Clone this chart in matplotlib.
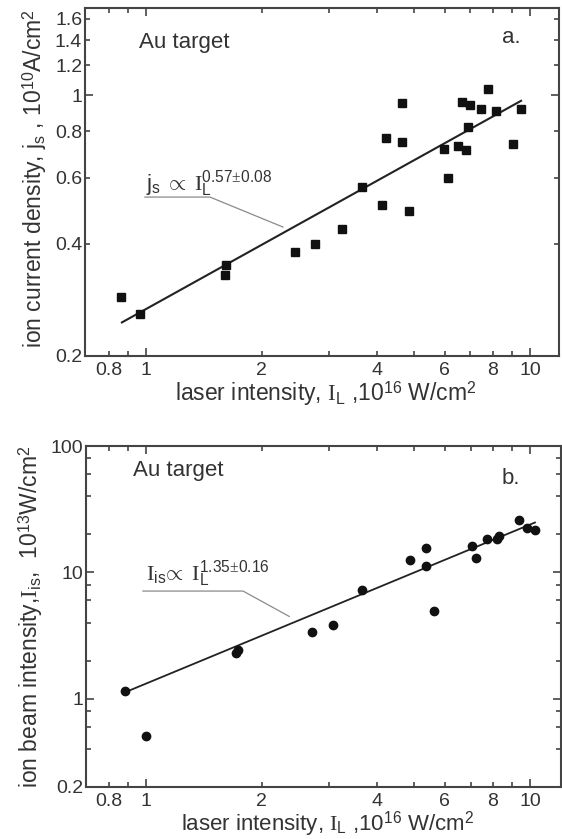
import numpy as np
import matplotlib.pyplot as plt
from matplotlib.ticker import FixedLocator, FuncFormatter

plt.rcParams['font.family'] = ['Liberation Sans', 'DejaVu Sans']
plt.rcParams['mathtext.fontset'] = 'custom'
plt.rcParams['mathtext.rm'] = 'Liberation Serif'
plt.rcParams['mathtext.sf'] = 'Liberation Sans'
plt.rcParams['mathtext.it'] = 'Liberation Serif:italic'
plt.rcParams['mathtext.bf'] = 'Liberation Serif:bold'

# ---- panel a: ion current density vs laser intensity (Au target)
laser_a = [0.86, 0.965, 1.61, 1.62, 2.45, 2.75, 3.25, 3.66, 4.11, 4.22, 4.63, 4.63,
           4.83, 5.97, 6.1, 6.5, 6.67, 6.8, 6.88, 6.98, 7.45, 7.76, 8.14, 9.05, 9.48]
jion_a = [0.287, 0.259, 0.329, 0.350, 0.379, 0.399, 0.438, 0.568, 0.508, 0.768, 0.95, 0.75,
          0.488, 0.718, 0.598, 0.730, 0.96, 0.711, 0.821, 0.938, 0.919, 1.04, 0.906, 0.739, 0.919]
fit_a_x = [0.866, 9.48]
fit_a_y = [0.246, 0.965]

# ---- panel b: ion beam intensity vs laser intensity
laser_b = [0.88, 1.0, 1.72, 1.74, 2.70, 3.06, 3.66, 4.87, 5.36, 5.36, 5.62, 7.07, 7.23,
           7.71, 8.19, 8.32, 9.36, 9.8, 10.3]
ibeam_b = [1.14, 0.51, 2.29, 2.43, 3.38, 3.8, 7.29, 12.6, 15.6, 11.2, 4.93, 16.2, 13.1,
           18.5, 18.2, 19.3, 26.2, 22.6, 21.5]
fit_b_x = [0.88, 10.3]
fit_b_y = [1.12, 24.8]

# leader lines from the fit labels
lead_a_x = [0.994, 1.468, 2.275]
lead_a_y = [0.533, 0.533, 0.443]
lead_b_x = [0.982, 1.79, 2.36]
lead_b_y = [7.11, 7.11, 4.48]

x_major = [1, 10]
x_minor = [0.8, 0.9, 2, 3, 4, 5, 6, 7, 8, 9]
x_minor_lab = {0.8: '0.8', 2: '2', 4: '4', 6: '6', 8: '8'}

ya_major = [1]
ya_minor = [0.2, 0.4, 0.6, 0.8, 1.2, 1.4, 1.6]
ya_minor_lab = {0.2: '0.2', 0.4: '0.4', 0.6: '0.6', 0.8: '0.8', 1.2: '1.2', 1.4: '1.4', 1.6: '1.6'}

yb_major = [1, 10, 100]
yb_minor = [0.2, 0.4, 0.6, 0.8, 2, 4, 6, 8, 20, 40, 60, 80]
yb_minor_lab = {0.2: '0.2'}

txt = '#333333'
sp = '#444444'
xlab = r'laser intensity, $\mathrm{I}_{\mathsf{L}}$ ,10$^{\mathsf{16}}$ W/cm$^{\mathsf{2}}$'


def lab_fmt(d):
    def f(v, pos):
        for k, s in d.items():
            if abs(v - k) < 1e-6 * max(1, k):
                return s
        return ''
    return FuncFormatter(f)


def style(ax, ymaj, ymin, ylab):
    ax.set_xscale('log')
    ax.set_yscale('log')
    ax.xaxis.set_major_locator(FixedLocator(x_major))
    ax.xaxis.set_minor_locator(FixedLocator(x_minor))
    ax.xaxis.set_major_formatter(FuncFormatter(lambda v, p: '%g' % v))
    ax.xaxis.set_minor_formatter(lab_fmt(x_minor_lab))
    ax.yaxis.set_major_locator(FixedLocator(ymaj))
    ax.yaxis.set_minor_locator(FixedLocator(ymin))
    ax.yaxis.set_major_formatter(FuncFormatter(lambda v, p: '%g' % v))
    ax.yaxis.set_minor_formatter(lab_fmt(ylab))
    ax.tick_params(which='both', direction='in', top=True, right=True,
                   color=sp, labelcolor=txt, labelsize=14, width=1.2)
    ax.tick_params(which='major', length=6)
    ax.tick_params(which='minor', length=3.5)
    ax.tick_params(axis='x', which='both', pad=4)
    ax.tick_params(axis='y', which='both', pad=2)
    for s in ax.spines.values():
        s.set_color(sp)
        s.set_linewidth(1.5)


fig = plt.figure(figsize=(5.62, 8.39), dpi=100)

ax = fig.add_axes([0.1512, 0.5757, 0.8434, 0.4148])
ax.plot(laser_a, jion_a, 's', color='#111111', markersize=5.2, zorder=3)
ax.plot(fit_a_x, fit_a_y, '-', color='#222222', lw=1.5)
ax.plot(lead_a_x, lead_a_y, '-', color='#8a8a8a', lw=0.9)
ax.set_xlim(0.694, 11.9)
ax.set_ylim(0.2, 1.711)
style(ax, ya_major, ya_minor, ya_minor_lab)
ax.text(1.0, 0.556, r'$\mathsf{j}_{\mathsf{s}}\ \propto\ \mathrm{I}_{\mathsf{L}}^{\mathsf{0.57}{\pm}\mathsf{0.08}}$',
        fontsize=16, color=txt, ha='left', va='baseline')
ax.text(0.209, 0.902, 'Au target', transform=ax.transAxes, fontsize=16, color=txt,
        ha='center', va='center')
ax.text(0.899, 0.914, 'a.', transform=ax.transAxes, fontsize=16, color=txt,
        ha='center', va='center')
ax.set_xlabel(xlab, fontsize=16.5, color=txt)
ax.set_ylabel(r'ion current density, j$_{\mathsf{s}}$ , 10$^{\mathsf{10}}$A/cm$^{\mathsf{2}}$',
              fontsize=16.5, color=txt)
ax.xaxis.set_label_coords(0.508, -0.066)
ax.yaxis.set_label_coords(-0.075, 0.51)

ax2 = fig.add_axes([0.1530, 0.0620, 0.8452, 0.4064])
ax2.plot(laser_b, ibeam_b, 'o', color='#111111', markersize=6, zorder=3)
ax2.plot(fit_b_x, fit_b_y, '-', color='#222222', lw=1.3)
ax2.plot(lead_b_x, lead_b_y, '-', color='#8a8a8a', lw=0.9)
ax2.set_xlim(0.698, 12.04)
ax2.set_ylim(0.2, 100)
style(ax2, yb_major, yb_minor, yb_minor_lab)
ax2.text(1.0, 8.64, r'$\mathrm{I}_{\mathsf{is}}\!\propto\ \mathrm{I}_{\mathsf{L}}^{\mathsf{1.35}{\pm}\mathsf{0.16}}$',
         fontsize=16, color=txt, ha='left', va='baseline')
ax2.text(0.194, 0.927, 'Au target', transform=ax2.transAxes, fontsize=16, color=txt,
         ha='center', va='center')
ax2.text(0.895, 0.906, 'b.', transform=ax2.transAxes, fontsize=16, color=txt,
         ha='center', va='center')
ax2.set_xlabel(xlab, fontsize=16, color=txt)
ax2.set_ylabel(r'ion beam intensity,$\mathrm{I}_{\mathsf{is}}$,  10$^{\mathsf{13}}$W/cm$^{\mathsf{2}}$',
               fontsize=16.5, color=txt)
ax2.xaxis.set_label_coords(0.509, -0.066)
ax2.yaxis.set_label_coords(-0.086, 0.5)

fig.savefig('out.png', dpi=100)
